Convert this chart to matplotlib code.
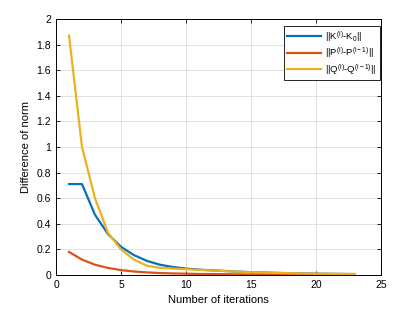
import numpy as np
import matplotlib.pyplot as plt

plt.rcParams['font.family'] = ['Liberation Sans', 'DejaVu Sans']
plt.rcParams['mathtext.fontset'] = 'custom'
plt.rcParams['mathtext.rm'] = 'Liberation Sans'
plt.rcParams['mathtext.it'] = 'Liberation Sans'

# iterations 1..23
iters = list(range(1, 24))
k_diff = [0.71, 0.71, 0.47, 0.32, 0.22, 0.155, 0.11, 0.08, 0.062, 0.05, 0.042,
          0.036, 0.031, 0.026, 0.022, 0.019, 0.016, 0.014, 0.012, 0.010, 0.009, 0.008, 0.007]
p_diff = [0.18, 0.12, 0.08, 0.055, 0.038, 0.027, 0.02, 0.015, 0.012, 0.01, 0.008,
          0.007, 0.006, 0.005, 0.004, 0.004, 0.003, 0.003, 0.002, 0.002, 0.002, 0.002, 0.001]
q_diff = [1.87, 1.0, 0.6, 0.33, 0.2, 0.12, 0.072, 0.056, 0.05, 0.045, 0.04,
          0.035, 0.03, 0.026, 0.022, 0.019, 0.016, 0.014, 0.012, 0.010, 0.009, 0.008, 0.007]

labels = ['||K$^{(i)}$-K$_0$||',
          '||P$^{(i)}$-P$^{(i-1)}$||',
          '||Q$^{(i)}$-Q$^{(i-1)}$||']
colors = ['#0072BD', '#D95319', '#EDB120']

fig = plt.figure(figsize=(4.18, 3.1), dpi=100)
ax = fig.add_axes([0.134, 0.113, 0.777, 0.826])

for y, lab, c in zip([k_diff, p_diff, q_diff], labels, colors):
    ax.plot(iters, y, color=c, linewidth=1.6, label=lab)

ax.set_xlim(0, 25)
ax.set_ylim(0, 2)
ax.set_xticks(np.arange(0, 26, 5))
ax.set_yticks(np.arange(0, 2.01, 0.2))
ax.set_yticklabels(['0', '0.2', '0.4', '0.6', '0.8', '1', '1.2', '1.4', '1.6', '1.8', '2'])
ax.grid(True, color='#dddddd', linewidth=0.6)
ax.set_axisbelow(True)
ax.tick_params(direction='in', labelsize=7.5, length=3, width=0.6, top=True, right=True)
for s in ax.spines.values():
    s.set_linewidth(0.7)
ax.set_xlabel('Number of iterations', fontsize=8)
ax.set_ylabel('Difference of norm', fontsize=8)

leg = ax.legend(loc='upper right', bbox_to_anchor=(0.997, 0.973), borderaxespad=0,
                fontsize=6.8, fancybox=False, edgecolor='black', framealpha=1,
                handlelength=3.6, labelspacing=0.2, borderpad=0.35, handletextpad=0.4)
leg.get_frame().set_linewidth(0.6)

fig.savefig('out.png', dpi=100)
